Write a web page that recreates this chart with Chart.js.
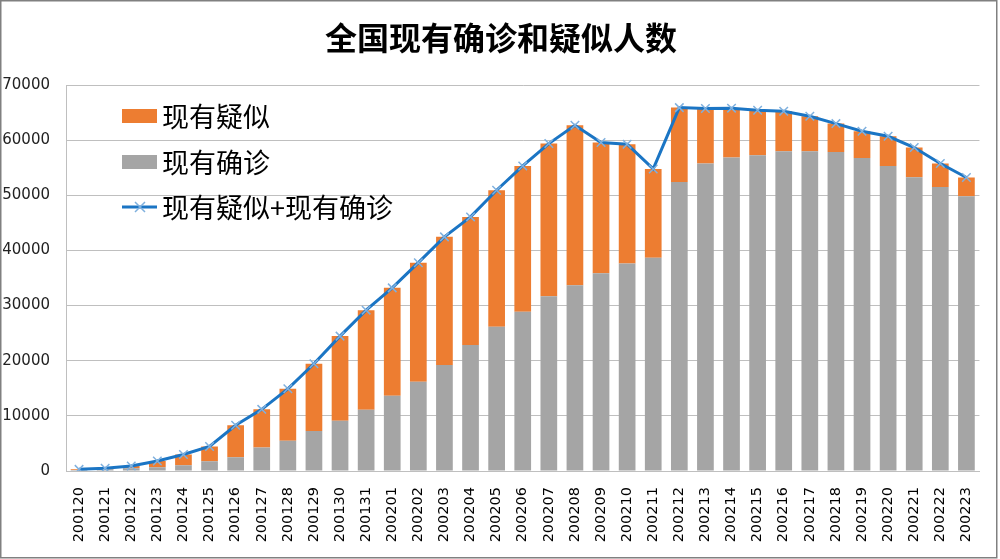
<!DOCTYPE html>
<html>
<head>
<meta charset="utf-8">
<script src="https://cdn.jsdelivr.net/npm/chart.js@4/dist/chart.umd.min.js"></script>
<style>
  html, body { margin: 0; padding: 0; background: #fff; }
  #wrap { width: 1000px; height: 559px; }
</style>
</head>
<body>
<div id="wrap"><canvas id="c" width="1000" height="559"></canvas></div>
<script>
// 日期 (类别)
const days = ['200120','200121','200122','200123','200124','200125','200126','200127','200128','200129',
  '200130','200131','200201','200202','200203','200204','200205','200206','200207','200208',
  '200209','200210','200211','200212','200213','200214','200215','200216','200217','200218',
  '200219','200220','200221','200222','200223'];

// 现有确诊
const confirmed = [190,300,500,700,1050,1750,2500,4250,5500,7250,9120,11110,13650,16180,19210,22830,26150,28870,31710,33700,
  35870,37640,38660,52420,55750,56840,57260,57980,57980,57860,56770,55320,53270,51520,49830];

// 现有疑似
const suspected = [110,200,400,1100,1950,2700,5800,6930,9400,12190,15340,18060,19560,21600,23250,23250,24770,26450,27670,29000,
  23690,21610,16120,13480,10000,8960,8150,7250,6350,5140,4840,5380,5390,4240,3390];

// 现有疑似+现有确诊
const total = [300,500,900,1800,3000,4450,8300,11180,14900,19440,24460,29170,33210,37780,42460,46080,50920,55320,59380,62700,
  59560,59250,54780,65900,65750,65800,65410,65230,64330,63000,61610,60700,58660,55760,53220];

const yTicks = [0,10000,20000,30000,40000,50000,60000,70000];

const TITLE = '全国现有确诊和疑似人数';
const CJK = '"Noto Sans CJK SC", "Noto Sans", sans-serif';

// 标题、边框和图例 (图例画在绘图区内)
const decor = {
  id: 'decor',
  beforeDraw(chart) {
    const ctx = chart.ctx;
    ctx.save();
    ctx.fillStyle = '#fff';
    ctx.fillRect(0, 0, chart.width, chart.height);
    ctx.restore();
  },
  afterDraw(chart) {
    const ctx = chart.ctx;
    ctx.save();
    ctx.strokeStyle = '#808080';
    ctx.lineWidth = 1.5;
    ctx.strokeRect(0.75, 0.75, 996, 557);

    ctx.fillStyle = '#000';
    ctx.font = 'bold 32px ' + CJK;
    ctx.textAlign = 'center';
    ctx.textBaseline = 'middle';
    ctx.fillText(TITLE, 501, 38);

    ctx.font = '27px ' + CJK;
    ctx.textAlign = 'left';
    const rows = [116, 162, 207];
    chart.data.datasets.forEach((ds, i) => {
      const y = rows[i];
      if (ds.type === 'line') {
        ctx.strokeStyle = ds.borderColor;
        ctx.lineWidth = 3;
        ctx.beginPath();
        ctx.moveTo(122, y);
        ctx.lineTo(157, y);
        ctx.stroke();
        ctx.strokeStyle = ds.pointBorderColor;
        ctx.lineWidth = 1.5;
        ctx.beginPath();
        ctx.moveTo(135, y - 5); ctx.lineTo(145, y + 5);
        ctx.moveTo(145, y - 5); ctx.lineTo(135, y + 5);
        ctx.stroke();
      } else {
        ctx.fillStyle = ds.backgroundColor;
        ctx.fillRect(122, y - 7, 35, 14);
      }
      ctx.fillStyle = '#000';
      ctx.fillText(ds.label, 162, y + 1);
    });
    ctx.restore();
  }
};

new Chart(document.getElementById('c'), {
  data: {
    labels: days,
    datasets: [
      {
        type: 'bar',
        label: '现有疑似',
        data: suspected,
        backgroundColor: '#ED7D31',
        stack: 'bars',
        order: 2,
        barPercentage: 0.64,
        categoryPercentage: 1
      },
      {
        type: 'bar',
        label: '现有确诊',
        data: confirmed,
        backgroundColor: '#A5A5A5',
        stack: 'bars',
        order: 1,
        barPercentage: 0.64,
        categoryPercentage: 1
      },
      {
        type: 'line',
        label: '现有疑似+现有确诊',
        data: total,
        borderColor: '#1B75C4',
        borderWidth: 3,
        pointStyle: 'crossRot',
        pointRadius: 6,
        pointBorderWidth: 1.5,
        pointBorderColor: '#7FB0DE',
        pointBackgroundColor: '#7FB0DE',
        tension: 0,
        stack: 'line',
        order: 0
      }
    ]
  },
  options: {
    responsive: false,
    animation: false,
    layout: { padding: { top: 85, right: 13, left: 0, bottom: 0 } },
    plugins: {
      legend: { display: false },
      title: { display: false },
      tooltip: { enabled: false }
    },
    scales: {
      x: {
        stacked: true,
        grid: { display: false, drawTicks: false },
        border: { display: true, color: '#BFBFBF', width: 1 },
        ticks: {
          autoSkip: false,
          maxRotation: 90,
          minRotation: 90,
          padding: 16,
          color: '#000',
          font: { family: '"DejaVu Sans", sans-serif', size: 14.5 }
        },
        afterFit(scale) { scale.height = 88; }
      },
      y: {
        stacked: true,
        min: 0,
        max: 70000,
        afterBuildTicks(scale) { scale.ticks = yTicks.map(v => ({ value: v })); },
        grid: { color: '#BFBFBF', lineWidth: 1, drawTicks: false },
        border: { display: true, color: '#BFBFBF', width: 1 },
        ticks: {
          padding: 16,
          color: '#222',
          font: { family: '"DejaVu Sans", sans-serif', size: 15 },
          callback: v => String(v)
        },
        afterFit(scale) { scale.width = 66; }
      }
    }
  },
  plugins: [decor]
});
</script>
</body>
</html>
